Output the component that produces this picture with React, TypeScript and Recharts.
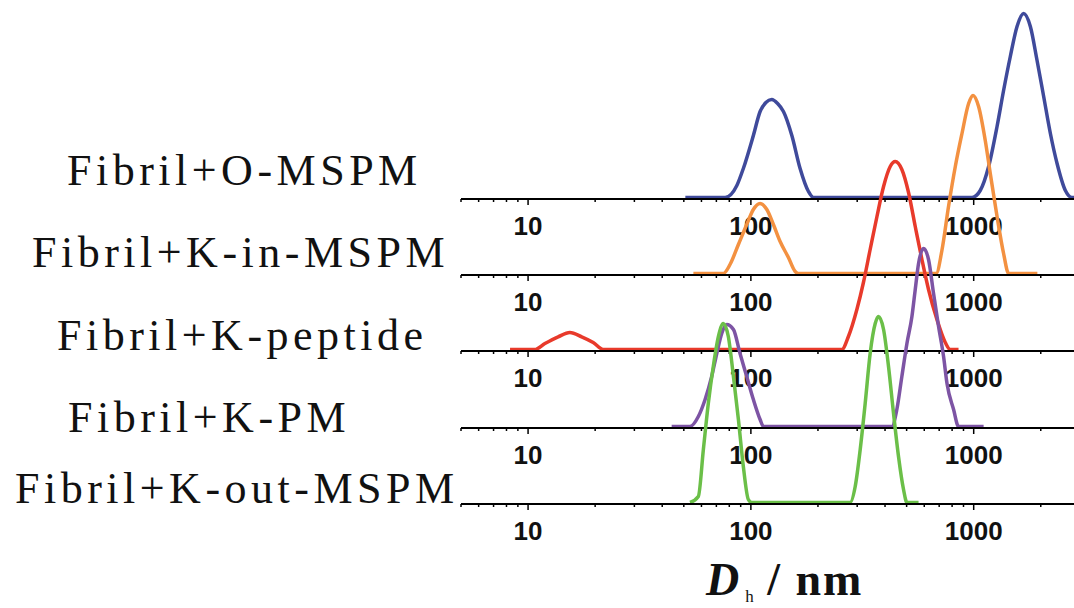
import React from "react"
import { LineChart, Line, XAxis, YAxis } from "recharts"

// sample labels, top to bottom
const sampleNames = [
  "Fibril+O-MSPM",
  "Fibril+K-in-MSPM",
  "Fibril+K-peptide",
  "Fibril+K-PM",
  "Fibril+K-out-MSPM",
]

// hydrodynamic diameter (nm) and intensity (%)
const oMspmSize = [50.8, 68, 76.6, 86.5, 92.5, 102.6, 110, 116.8, 124.1, 131.8, 140, 152.7, 166.3, 181.3, 190.9, 982.7, 1070, 1167, 1273, 1362, 1460, 1565, 1676, 1796, 1925, 2061, 2209, 2367, 2579, 2764, 2980]
const oMspmInt = [0, 0, 0, 1.2, 2.9, 6.2, 8.6, 9.5, 9.8, 9.4, 8.6, 6.2, 2.9, 0.6, 0, 0, 0.7, 3.1, 7.1, 10.7, 14.1, 17.1, 18.4, 17.1, 13.7, 10.1, 6.4, 3.4, 0.7, 0, 0]

const kInSize = [55.2, 75.2, 80.6, 87.9, 95.8, 102.6, 110, 117.9, 126.2, 135.3, 147.4, 158, 163, 679, 720, 771, 827, 886, 949, 993, 1052, 1127, 1187, 1273, 1362, 1435, 1931]
const kInInt = [0, 0, 0.9, 2.9, 4.9, 6.4, 7.0, 6.4, 4.9, 3.2, 1.6, 0.2, 0, 0, 2.3, 6.7, 10.7, 14.0, 17.0, 17.8, 16.7, 13.3, 10.0, 5.7, 2.0, 0, 0]

const peptideSize = [8.3, 10.7, 11.9, 13.65, 15.4, 17.4, 19.6, 21.75, 256, 274, 299, 320, 343, 368, 394, 422, 444.6, 476, 510, 546.6, 585.7, 627, 684, 745.6, 785, 855]
const peptideInt = [0, 0, 0.6, 1.27, 1.7, 1.27, 0.7, 0, 0, 1.3, 4.0, 6.7, 10.0, 13.3, 16.3, 18.3, 18.8, 18.0, 15.7, 12.3, 9.0, 6.0, 3.0, 0.7, 0, 0]

const kPmSize = [44.1, 53.3, 58.1, 62.3, 66.7, 70.3, 74.0, 77.9, 83.5, 89.4, 95.8, 102.6, 110, 113.8, 429.5, 452, 476, 501.6, 528.2, 546.6, 565.6, 595.6, 627, 660.5, 695.6, 732.5, 759, 812.4, 855, 1108]
const kPmInt = [0, 0, 1.0, 2.7, 5.0, 7.3, 9.3, 10.2, 9.7, 7.3, 5.0, 2.7, 0.7, 0, 0, 1.7, 5.0, 8.3, 11.0, 13.7, 16.3, 17.8, 16.7, 13.3, 10.0, 7.0, 4.3, 1.7, 0, 0]

const kOutSize = [53.3, 58.1, 61.2, 64.4, 67.8, 71.5, 75.2, 79.2, 83.5, 87.9, 92.5, 97.4, 100.9, 279, 293.9, 309.5, 325.8, 343, 361.4, 374, 394, 414.7, 436.8, 459.8, 484.3, 501.6, 565.6]
const kOutInt = [0, 0.6, 5.3, 9.9, 13.6, 16.6, 17.9, 16.6, 12.6, 8.3, 3.6, 0.3, 0, 0, 1.6, 5.3, 9.9, 14.9, 17.9, 18.6, 17.3, 13.6, 8.9, 4.6, 1.3, 0, 0]

const majorTicks = [10, 100, 1000]
const allTicks = [5, 6, 7, 8, 9, 10, 20, 30, 40, 50, 60, 70, 80, 90, 100, 200, 300, 400, 500, 600, 700, 800, 900, 1000, 2000, 3000]

const panels = [
  { size: oMspmSize, value: oMspmInt, color: "#3f4a9b", base: 199, labelX: 67, labelY: 185 },
  { size: kInSize, value: kInInt, color: "#f39141", base: 274.5, labelX: 32, labelY: 267 },
  { size: peptideSize, value: peptideInt, color: "#e83a2b", base: 351, labelX: 57, labelY: 350 },
  { size: kPmSize, value: kPmInt, color: "#7d54a4", base: 427.5, labelX: 68, labelY: 432 },
  { size: kOutSize, value: kOutInt, color: "#6bbf48", base: 504, labelX: 15, labelY: 503 },
]

const PLOT_H = 200

const SizeTick = (props: any) => {
  const { x, y, payload } = props
  const major = majorTicks.includes(payload.value)
  return (
    <g>
      <line x1={x} x2={x} y1={y} y2={y + (major ? 6 : 3)} stroke="#000" strokeWidth={1.5} />
      {major && (
        <text
          x={x}
          y={y + 36}
          textAnchor="middle"
          fontFamily="'Liberation Sans', Arial, sans-serif"
          fontWeight="bold"
          fontSize={26}
          fill="#111"
        >
          {payload.value}
        </text>
      )}
    </g>
  )
}

const App: React.FC = () => {
  return (
    <div
      style={{
        position: "absolute",
        left: 0,
        top: 0,
        width: 1074,
        height: 608,
        overflow: "hidden",
        background: "#fff",
      }}
    >
      <svg width={1074} height={608} style={{ position: "absolute", left: 0, top: 0 }}>
        {panels.map((p, i) => (
          <text
            key={i}
            x={p.labelX}
            y={p.labelY}
            fontFamily="'Liberation Serif', 'Times New Roman', serif"
            fontSize={44}
            letterSpacing={4.5}
            fill="#111"
          >
            {sampleNames[i]}
          </text>
        ))}
        <text x={706} y={595} fontFamily="'Liberation Serif', 'Times New Roman', serif" fontWeight="bold" fontSize={46} fill="#111">
          <tspan fontStyle="italic">D</tspan>
          <tspan fontSize={17} fontWeight="normal" dx={6} dy={7}>h</tspan>
          <tspan dy={-7} letterSpacing={2}> / nm</tspan>
        </text>
      </svg>

      {panels.map((p, i) => {
        const data = p.size.map((s, k) => ({ size: s, value: p.value[k] }))
        return (
          <div key={i} style={{ position: "absolute", left: 0, top: p.base - PLOT_H }}>
            <LineChart width={1090} height={PLOT_H + 45} data={data} margin={{ top: 0, right: 10, bottom: 0, left: 461 }}>
              <XAxis
                dataKey="size"
                type="number"
                scale="log"
                domain={[5, 3000]}
                ticks={allTicks}
                interval={0}
                tickLine={false}
                tickSize={0}
                tickMargin={0}
                height={45}
                axisLine={{ stroke: "#000", strokeWidth: 2 }}
                tick={<SizeTick />}
              />
              <YAxis hide domain={[-0.15, 19.85]} />
              <Line
                type="monotone"
                dataKey="value"
                stroke={p.color}
                strokeWidth={3.5}
                dot={false}
                isAnimationActive={false}
              />
            </LineChart>
          </div>
        )
      })}
    </div>
  )
}

export default App
